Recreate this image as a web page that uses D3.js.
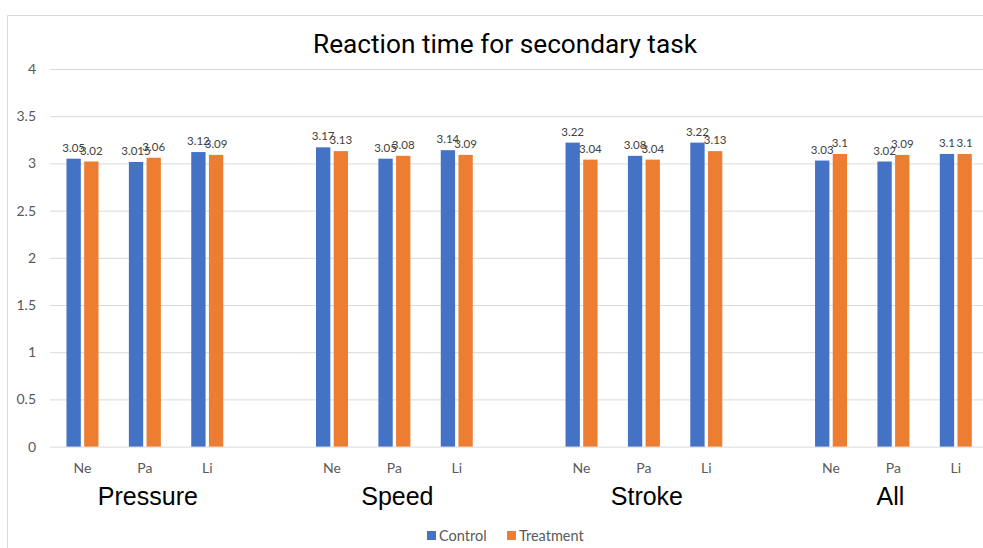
<!DOCTYPE html>
<html><head><meta charset="utf-8">
<script src="https://cdn.jsdelivr.net/npm/d3@7"></script>
<style>body{margin:0;background:#fff}svg{display:block}</style>
</head><body>
<svg id="c" width="983" height="548"></svg>
<script>
const groups = ["Pressure","Speed","Stroke","All"];
const subs = ["Ne","Pa","Li"];
const series = ["Control","Treatment"];
const control = [3.05,3.015,3.12, 3.17,3.05,3.14, 3.22,3.08,3.22, 3.03,3.02,3.1];
const treatment = [3.02,3.06,3.09, 3.13,3.08,3.09, 3.04,3.04,3.13, 3.1,3.09,3.1];
const yTicks = [0,0.5,1,1.5,2,2.5,3,3.5,4];
const colors = {Control:"#4472C4", Treatment:"#ED7D31"};

const svg = d3.select("#c");
const slot = 62.38, x0 = 51.3;
const y = d3.scaleLinear().domain([0,4]).range([446.6,69]);
const gx = d3.scaleBand().domain(groups).range([x0, x0+16*slot]).paddingInner(0);
const sx = d3.scaleBand().domain(subs).range([0, 3*slot]);
const bx = d3.scaleBand().domain(series).range([-16,16]).paddingInner(0.19);

// frame
svg.append("path").attr("d","M7.5,548V15.5H983").attr("fill","none").attr("stroke","#d9d9d9");

// title
svg.append("text").attr("x",505).attr("y",53).attr("text-anchor","middle")
  .attr("font-family","Roboto").attr("font-size",25).attr("fill","#000")
  .attr("textLength",384).attr("lengthAdjust","spacingAndGlyphs")
  .text("Reaction time for secondary task");

// y axis gridlines + labels
const yAxis = d3.axisLeft(y).tickValues(yTicks).tickSize(-(983-50)).tickFormat(d3.format("~g")).tickPadding(14);
const ga = svg.append("g").attr("transform","translate(50,0)").call(yAxis);
ga.select(".domain").remove();
ga.selectAll(".tick line").attr("stroke","#d9d9d9");
ga.selectAll(".tick text").attr("font-family","Lato, 'Open Sans', sans-serif").attr("font-size",14).attr("fill","#595959");

// data rows
const rows = [];
groups.forEach((g,gi)=>subs.forEach((s,si)=>{
  const i = gi*3+si;
  rows.push({g,s,Control:control[i],Treatment:treatment[i]});
}));
const cx = d => gx(d.g)+sx(d.s)+sx.bandwidth()/2;

const bars = [];
rows.forEach(r=>series.forEach(k=>bars.push({r,k,v:r[k]})));
svg.append("g").selectAll("rect").data(bars).join("rect")
  .attr("x",d=>cx(d.r)+bx(d.k)).attr("width",bx.bandwidth())
  .attr("y",d=>y(d.v)).attr("height",d=>y(0)-y(d.v))
  .attr("fill",d=>colors[d.k]);

svg.append("g").selectAll("text").data(bars).join("text")
  .attr("x",d=>cx(d.r)+bx(d.k)+bx.bandwidth()/2).attr("y",d=>y(d.v)-7)
  .attr("text-anchor","middle").attr("font-family","Lato, 'Open Sans', sans-serif")
  .attr("font-size",11.5).attr("fill","#404040")
  .text(d=>String(d.v));

// category labels
svg.append("g").selectAll("text").data(rows).join("text")
  .attr("x",cx).attr("y",473).attr("text-anchor","middle")
  .attr("font-family","Lato, 'Open Sans', sans-serif").attr("font-size",14).attr("fill","#595959")
  .text(d=>d.s);

// group labels
svg.append("g").selectAll("text").data(groups).join("text")
  .attr("x",g=>gx(g)+sx("Pa")+sx.bandwidth()/2+(g==="All"?-3:3)).attr("y",505).attr("text-anchor","middle")
  .attr("font-family","'Liberation Sans', Arial, sans-serif").attr("font-size",25).attr("fill","#000")
  .text(g=>g);

// legend
const lg = svg.append("g");
const legX = {Control:427, Treatment:507};
series.forEach(k=>{
  lg.append("rect").attr("x",legX[k]).attr("y",531).attr("width",9).attr("height",9).attr("fill",colors[k]);
  lg.append("text").attr("x",legX[k]+12).attr("y",541).attr("font-family","Lato, 'Open Sans', sans-serif")
    .attr("font-size",14.5).attr("fill","#595959").text(k);
});
</script>
</body></html>
